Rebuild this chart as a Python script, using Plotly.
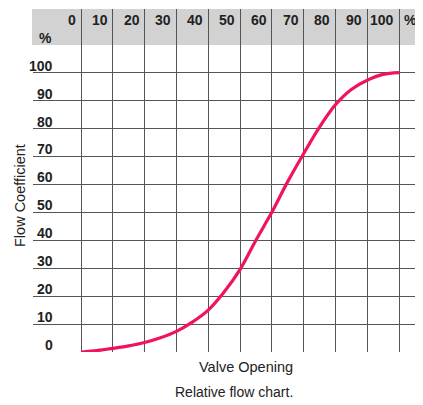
import plotly.graph_objects as go

# Data
valve_opening = [0, 5, 10, 15, 20, 25, 30, 35, 40, 45, 50, 55, 60, 65, 70, 75, 80, 85, 90, 95, 100]
flow_coeff = [0, 0.5, 1.3, 2.2, 3.4, 5.1, 7.4, 10.7, 15.0, 21.5, 29.5, 40, 50, 61, 71, 80.5, 88.5, 94, 97.3, 99.4, 100]

x_ticks = [0, 10, 20, 30, 40, 50, 60, 70, 80, 90, 100]
x_tick_labels = ["0", "10", "20", "30", "40", "50", "60", "70", "80", "90", "100"]
y_ticks = [0, 10, 20, 30, 40, 50, 60, 70, 80, 90, 100]
y_tick_labels = ["0", "10", "20", "30", "40", "50", "60", "70", "80", "90", "100"]
y_grid = [10, 20, 30, 40, 50, 60, 70, 80, 90, 100]

# window -> figure offset (page body margin)
OFF = 8
W, H = 423 - OFF, 405 - OFF
# window-pixel geometry of the plot area
win_left, win_right, win_top, win_bottom = 33, 423, 9, 352
L = win_left - OFF
R = (OFF + W) - win_right
T = win_top - OFF
B = (OFF + H) - win_bottom

px0, px100 = 81, 399
py0, py100 = 352, 72.7
sx = (px100 - px0) / 100.0
sy = (py0 - py100) / 100.0
xr = [(win_left - px0) / sx, (win_right - px0) / sx]
yr = [0, (py0 - win_top) / sy]


def pxp(px):
    return (px - win_left) / (win_right - win_left)


def pyp(py):
    return (win_bottom - py) / (win_bottom - win_top)


label_font = dict(family="Liberation Sans Narrow, Arial Narrow, Liberation Sans, sans-serif",
                  size=14, color="#222222", weight="bold")

fig = go.Figure()
fig.add_trace(go.Scatter(
    x=valve_opening, y=flow_coeff, mode="lines",
    line=dict(color="#f0145a", width=3.2, shape="spline", smoothing=0.9),
    cliponaxis=False, hoverinfo="skip", showlegend=False,
))

annotations = []
for v, t in zip(x_ticks, x_tick_labels):
    annotations.append(dict(x=v, y=pyp(20), xref="x", yref="paper", text=t, showarrow=False,
                            xanchor="right", yanchor="middle", xshift=-3, font=label_font))
for v, t in zip(y_ticks, y_tick_labels):
    annotations.append(dict(x=pxp(55), y=v, xref="paper", yref="y", text=t, showarrow=False,
                            xanchor="right", yanchor="middle", yshift=7, font=label_font))
annotations.append(dict(x=pxp(45), y=pyp(38), xref="paper", yref="paper", text="%", showarrow=False,
                        xanchor="center", yanchor="middle", font=label_font))
annotations.append(dict(x=pxp(410), y=pyp(20), xref="paper", yref="paper", text="%", showarrow=False,
                        xanchor="center", yanchor="middle", font=label_font))
title_font = dict(family="Liberation Sans, Arial, sans-serif", size=14.5, color="#222222")
annotations.append(dict(x=pxp(20), y=pyp(196), xref="paper", yref="paper", text="Flow Coefficient",
                        showarrow=False, textangle=-90, xanchor="center", yanchor="middle",
                        font=title_font))
annotations.append(dict(x=pxp(246), y=pyp(367), xref="paper", yref="paper", text="Valve Opening",
                        showarrow=False, xanchor="center", yanchor="middle", font=title_font))
annotations.append(dict(x=pxp(234), y=pyp(392), xref="paper", yref="paper", text="Relative flow chart.",
                        showarrow=False, xanchor="center", yanchor="middle",
                        font=dict(family="Liberation Sans, Arial, sans-serif", size=14, color="#222222")))

fig.update_layout(
    width=W, height=H,
    margin=dict(l=L, r=R, t=T, b=B, autoexpand=False),
    paper_bgcolor="white", plot_bgcolor="white",
    annotations=annotations,
    shapes=[dict(type="rect", xref="paper", yref="paper", x0=pxp(32), x1=pxp(421), y0=pyp(45), y1=pyp(9),
                 fillcolor="#d2d2d2", line=dict(width=0), layer="below")],
    xaxis=dict(range=xr, tickvals=x_ticks, showticklabels=False, showgrid=True,
               gridcolor="#555555", gridwidth=1, zeroline=False, showline=False, fixedrange=True),
    yaxis=dict(range=yr, tickvals=y_grid, showticklabels=False, showgrid=True,
               gridcolor="#555555", gridwidth=1, zeroline=False, showline=False, fixedrange=True),
)

fig.write_html("out.html")
